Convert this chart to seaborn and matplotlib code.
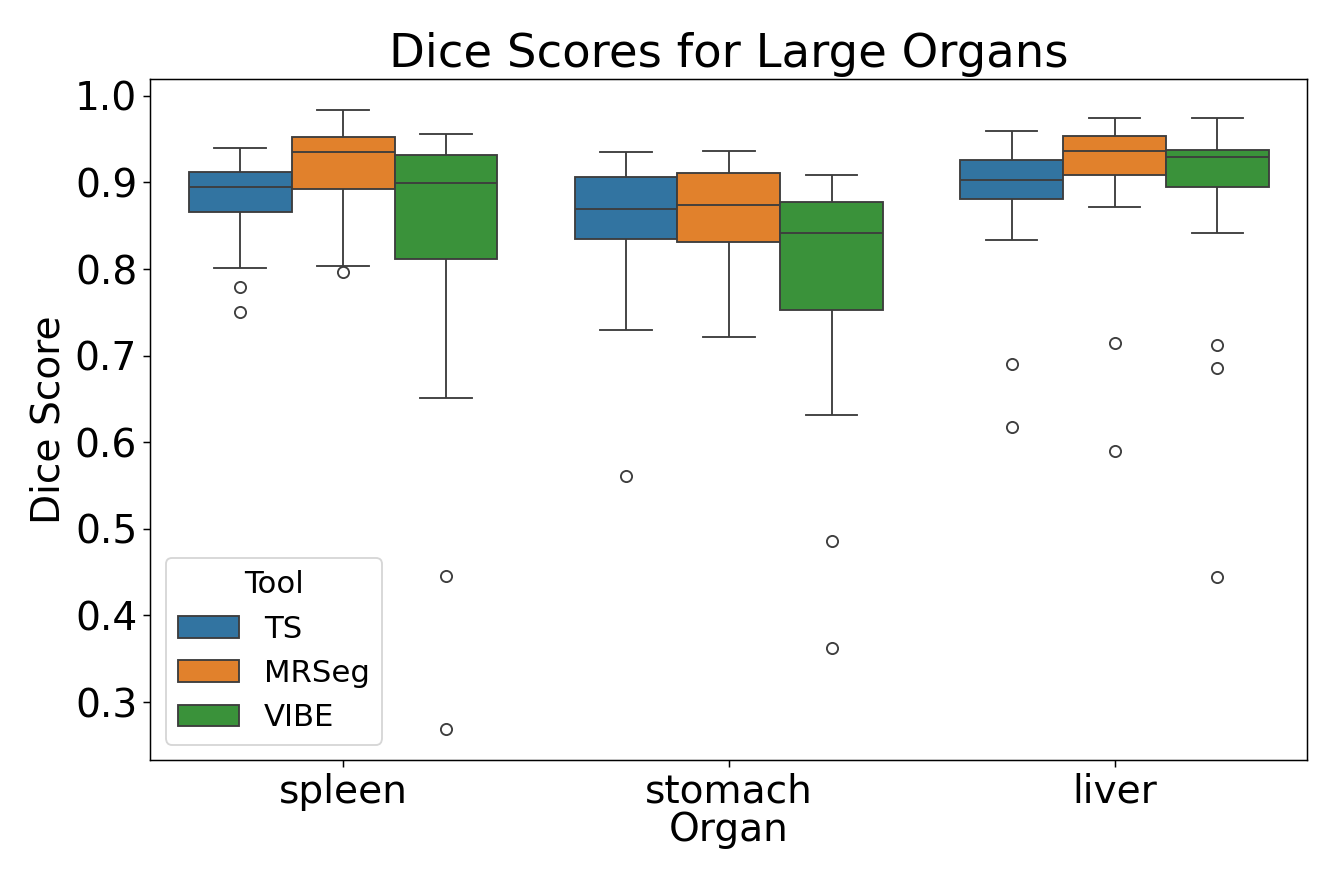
import matplotlib
matplotlib.use('Agg')
import matplotlib.pyplot as plt
import seaborn as sns
import pandas as pd

organs = ['spleen', 'stomach', 'liver']
tools = ['TS', 'MRSeg', 'VIBE']

# Dice scores per organ / tool (17 cases each)
spleen_ts = [0.750, 0.779, 0.801, 0.840, 0.866, 0.875, 0.882, 0.889, 0.895,
             0.900, 0.904, 0.908, 0.912, 0.918, 0.925, 0.932, 0.940]
spleen_mrseg = [0.796, 0.803, 0.850, 0.875, 0.892, 0.905, 0.915, 0.926, 0.935,
                0.940, 0.945, 0.949, 0.952, 0.960, 0.968, 0.976, 0.984]
spleen_vibe = [0.269, 0.446, 0.651, 0.740, 0.811, 0.835, 0.860, 0.880, 0.899,
               0.908, 0.916, 0.925, 0.932, 0.940, 0.946, 0.951, 0.956]

stomach_ts = [0.561, 0.730, 0.780, 0.815, 0.835, 0.845, 0.853, 0.861, 0.869,
              0.879, 0.889, 0.898, 0.906, 0.912, 0.920, 0.928, 0.935]
stomach_mrseg = [0.721, 0.760, 0.795, 0.815, 0.831, 0.842, 0.853, 0.864, 0.874,
                 0.883, 0.893, 0.902, 0.911, 0.917, 0.923, 0.930, 0.936]
stomach_vibe = [0.362, 0.486, 0.631, 0.700, 0.753, 0.775, 0.800, 0.822, 0.842,
                0.850, 0.860, 0.868, 0.877, 0.885, 0.893, 0.901, 0.909]

liver_ts = [0.618, 0.690, 0.833, 0.860, 0.881, 0.887, 0.893, 0.898, 0.903,
            0.909, 0.915, 0.920, 0.926, 0.935, 0.943, 0.951, 0.959]
liver_mrseg = [0.590, 0.714, 0.872, 0.895, 0.909, 0.916, 0.923, 0.930, 0.936,
               0.941, 0.945, 0.949, 0.953, 0.958, 0.963, 0.968, 0.974]
liver_vibe = [0.444, 0.686, 0.712, 0.841, 0.895, 0.905, 0.914, 0.922, 0.929,
              0.931, 0.933, 0.935, 0.937, 0.945, 0.955, 0.965, 0.974]

scores = {
    ('spleen', 'TS'): spleen_ts, ('spleen', 'MRSeg'): spleen_mrseg, ('spleen', 'VIBE'): spleen_vibe,
    ('stomach', 'TS'): stomach_ts, ('stomach', 'MRSeg'): stomach_mrseg, ('stomach', 'VIBE'): stomach_vibe,
    ('liver', 'TS'): liver_ts, ('liver', 'MRSeg'): liver_mrseg, ('liver', 'VIBE'): liver_vibe,
}

rows = []
for (organ, tool), vals in scores.items():
    for v in vals:
        rows.append({'Organ': organ, 'Tool': tool, 'Dice Score': v})
df = pd.DataFrame(rows)

fig = plt.figure(figsize=(10, 6.6667))
ax = sns.boxplot(data=df, x='Organ', y='Dice Score', hue='Tool', order=organs, hue_order=tools)
plt.subplots_adjust(left=0.112, right=0.975, bottom=0.150, top=0.912)
plt.title('Dice Scores for Large Organs', fontsize=25)
plt.xlabel('Organ', fontsize=21, labelpad=0)
plt.ylabel('Dice Score', fontsize=21)
plt.xticks(fontsize=21)
plt.yticks(fontsize=21)
plt.legend(title='Tool', fontsize=16.5, title_fontsize=16.5, loc='lower left')
plt.savefig('out.png', dpi=134.1)
